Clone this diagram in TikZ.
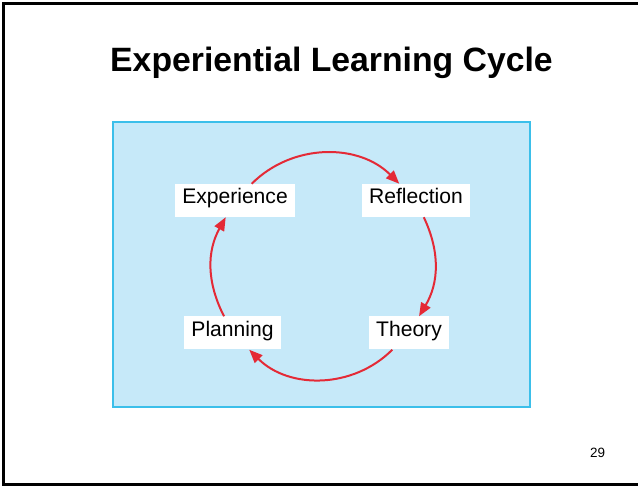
\documentclass[tikz,border=0pt]{standalone}
\usepackage{fontspec}
\setmainfont{Liberation Sans}
\usetikzlibrary{arrows.meta}
\definecolor{panelfill}{RGB}{198,233,249}
\definecolor{paneledge}{RGB}{59,191,234}
\definecolor{cyclered}{RGB}{228,42,54}

\begin{document}
\begin{tikzpicture}[x=0.3mm,y=0.3mm,
        stage/.style={fill=white,inner xsep=2.1mm,inner ysep=0pt,minimum height=9.9mm,
                text height=0.8em,text depth=0.21em,font=\fontsize{18}{20}\selectfont},
        turn/.style={draw=cyclered,line width=0.6mm,-{Triangle[length=4mm,width=3.2mm]}}]
        \useasboundingbox (0,0) rectangle (638,486);
        \draw[line width=0.9mm] (638,482) -- (3.2,482) -- (3.2,1.3) -- (638,1.3);

        \node[anchor=base,font=\fontsize{28.8}{32}\bfseries] (title) at (331.5,414) {Experiential Learning Cycle};
        \node[anchor=base,font=\fontsize{11.5}{13}\selectfont] (page) at (597.5,28) {29};

        \draw[draw=paneledge,fill=panelfill,line width=0.6mm] (113,79) rectangle (530,364);

        \node[stage] (exp)  at (235,285.5) {Experience};
        \node[stage] (refl) at (416,285.5) {Reflection};
        \node[stage] (theo) at (409,153)   {Theory};
        \node[stage] (plan) at (232.5,153) {Planning};

        \draw[turn] (exp)  to[bend left=45] (refl);
        \draw[turn] (refl) to[bend left=28] (theo);
        \draw[turn] (theo) to[bend left=45] (plan);
        \draw[turn] (plan) to[bend left=28] (exp);
    \end{tikzpicture}
\end{document}
